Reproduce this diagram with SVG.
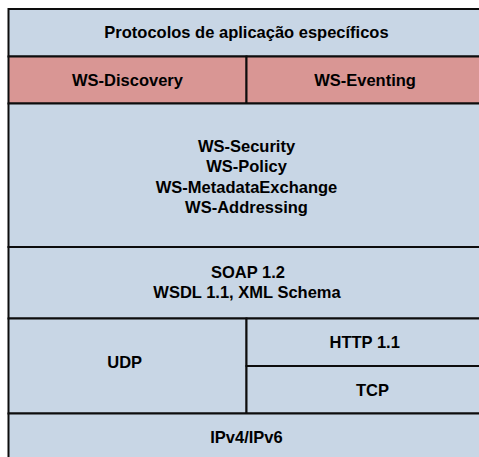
<svg xmlns="http://www.w3.org/2000/svg" width="479" height="457" viewBox="0 0 479 457">
<style>
.b{fill:#C8D6E5;stroke:#0d0d0d;stroke-width:2}
.r{fill:#D99694;stroke:#0d0d0d;stroke-width:2}
text{font-family:"Liberation Sans",Arial,sans-serif;font-weight:bold;font-size:16.5px;fill:#000;text-anchor:middle}
</style>
<rect x="0" y="0" width="479" height="457" fill="#ffffff"/>
<g id="app"><rect class="b" x="8.5" y="9" width="480" height="47.5"/><text x="246.5" y="38">Protocolos de aplicação específicos</text></g>
<g id="discovery"><rect class="r" x="8.5" y="56.5" width="238" height="47"/><text x="127.5" y="86">WS-Discovery</text></g>
<g id="eventing"><rect class="r" x="246.5" y="56.5" width="242" height="47"/><text x="365" y="86">WS-Eventing</text></g>
<g id="ws"><rect class="b" x="8.5" y="103.5" width="480" height="143.5"/><text x="246.5" y="151.5">WS-Security</text><text x="246.5" y="172">WS-Policy</text><text x="246.5" y="192.5">WS-MetadataExchange</text><text x="246.5" y="213">WS-Addressing</text></g>
<g id="soap"><rect class="b" x="8.5" y="247" width="480" height="71.5"/><text x="248" y="277.5">SOAP 1.2</text><text x="247" y="298">WSDL 1.1, XML Schema</text></g>
<g id="udp"><rect class="b" x="8.5" y="318.5" width="238" height="95"/><text x="124.7" y="368">UDP</text></g>
<g id="http"><rect class="b" x="246.5" y="318.5" width="242" height="47.5"/><text x="364.7" y="348">HTTP 1.1</text></g>
<g id="tcp"><rect class="b" x="246.5" y="366" width="242" height="47.5"/><text x="372.5" y="395.5">TCP</text></g>
<g id="ip"><rect class="b" x="8.5" y="413.5" width="480" height="60"/><text x="246.5" y="442.5">IPv4/IPv6</text></g>
<g id="connectors"></g>
</svg>
